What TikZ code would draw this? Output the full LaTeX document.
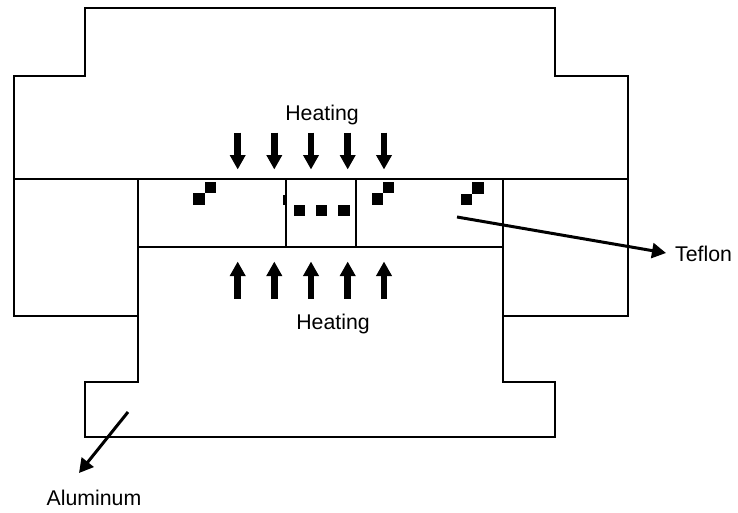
\documentclass[tikz,border=0pt]{standalone}
\usepackage{fontspec}
\setmainfont{Liberation Sans}
\usetikzlibrary{arrows.meta}
\tikzset{
	wall/.style={line width=2pt,line join=miter},
	heat/.style={line width=6.5pt,-{Triangle[length=14.5pt,width=15pt]}},
	lead/.style={line width=3pt,-{Triangle[length=14pt,width=15pt]}},
	label/.style={inner sep=0pt,font=\fontsize{21.3}{24}\selectfont},
	dot/.style={fill=black,draw=none,minimum size=11.3pt,inner sep=0pt,outer sep=0pt,rectangle}
}
\begin{document}
\begin{tikzpicture}[x=1pt,y=-1pt]
	\useasboundingbox (0,0) rectangle (738,512);
	\draw[wall] (85,8)--(555,8)--(555,76)--(628,76)--(628,179)--(14,179)--(14,76)--(85,76)--cycle;
	\draw[wall] (14,179)--(14,316)--(138,316);
	\draw[wall] (628,179)--(628,316)--(503,316);
	\draw[wall] (138,179)--(138,382)--(85,382)--(85,437)--(555,437)--(555,382)--(503,382)--(503,179);
	\draw[wall] (138,247)--(503,247);
	\draw[wall] (286,179) rectangle (356,247);
	\fill (283,194.5) rectangle (286,204.5);
	\node[dot] (d1) at (199,199) {};
	\node[dot] (d2) at (210.3,187.7) {};
	\node[dot] (d3) at (377.5,199) {};
	\node[dot] (d4) at (388.8,187.7) {};
	\node[dot] (d5) at (466.7,199.5) {};
	\node[dot] (d6) at (478,188) {};
	\node[dot] (d7) at (299.3,210.5) {};
	\node[dot] (d8) at (321.7,210.5) {};
	\node[dot] (d9) at (344,210.5) {};
	\foreach \x/\n in {237.7/a,274.3/b,311/c,347.7/d,384/e}{
		\coordinate (top\n) at (\x,132.5);
		\coordinate (topend\n) at (\x,169.5);
		\coordinate (bot\n) at (\x,298.5);
		\coordinate (botend\n) at (\x,261.5);
		\draw[heat] (top\n)--(topend\n);
		\draw[heat] (bot\n)--(botend\n);
	}
	\node[label] (heattop) at (322,114.5) {Heating};
	\node[label] (heatbot) at (333,323.5) {Heating};
	\node[label,anchor=west] (teflon) at (675,254) {Teflon};
	\node[label] (alu) at (94,498) {Aluminum};
	\coordinate (tefstart) at (457,217);
	\coordinate (teftip) at (666,253);
	\coordinate (alustart) at (128,412);
	\coordinate (alutip) at (79,473);
	\draw[lead] (tefstart)--(teftip);
	\draw[lead] (alustart)--(alutip);
\end{tikzpicture}
\end{document}
